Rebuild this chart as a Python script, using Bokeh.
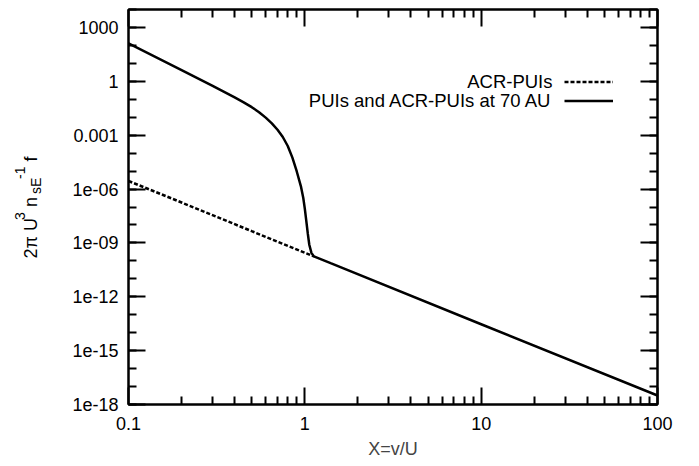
import math
from bokeh.plotting import figure
from bokeh.layouts import row
from bokeh.models import (LogAxis, FixedTicker, CustomJSTickFormatter,
                          Legend, LegendItem, Range1d, Label)
from bokeh.core.properties import value
from bokeh.embed import file_html
from bokeh.resources import INLINE

# ---- data (x = v/U, y = 2pi U^3 n_sE^-1 f) ----
x_acr = [0.1, 0.2, 0.5, 1.125]
y_acr = [2.8e-6, 1.78e-7, 4.5e-9, 1.78e-10]

x_tot = [0.1, 0.2, 0.3, 0.4, 0.45, 0.5, 0.55, 0.6, 0.65, 0.7, 0.75, 0.8,
         0.85, 0.9, 0.95, 0.98, 1.0, 1.02, 1.04, 1.06, 1.09, 1.125, 1.4,
         10.0, 100.0]
y_tot = [1.32e2, 4.17, 0.55, 0.126, 6.76e-2, 3.63e-2, 1.91e-2, 9.5e-3,
         4.57e-3, 2.0e-3, 7.9e-4, 2.5e-4, 5.6e-5, 9.5e-6, 1.41e-6, 3.16e-7,
         7.9e-8, 1.58e-8, 3.16e-9, 7.9e-10, 2.8e-10, 1.78e-10, 7.4e-11,
         2.95e-14, 3.16e-18]

x_major = [0.1, 1.0, 10.0, 100.0]
y_major = [1e3, 1.0, 1e-3, 1e-6, 1e-9, 1e-12, 1e-15, 1e-18]
legend_labels = ["ACR-PUIs", "PUIs and ACR-PUIs at 70 AU"]
x_title = "X=v/U"
y_title_pieces = ["2\u03c0 U", "3", "n", "sE", "-1", "f"]

FONT = "Liberation Sans"
TOTAL_H = 465
TITLE_W = 60
X_LO, X_HI, Y_LO_EXP, Y_HI_EXP = 0.1, 100.0, -18, 4

x_minor = [m * 10.0 ** k for k in (-1, 0, 1) for m in range(2, 10)]
y_minor = [10.0 ** k for k in range(Y_LO_EXP, Y_HI_EXP + 1)]

fmt = CustomJSTickFormatter(code="""
    const e = Math.round(Math.log10(tick));
    if (e >= -4) return String(Number("1e" + e));
    const n = -e;
    return "1e-" + (n < 10 ? "0" + n : String(n));
""")
blank_fmt = CustomJSTickFormatter(code="return '';")

# frame: page x 128..657, page y 9..404
F_LEFT, F_RIGHT, F_TOP, F_BOT = 128, 657, 9, 404
p = figure(width=638, height=TOTAL_H, x_axis_type="log", y_axis_type="log",
           x_range=Range1d(X_LO, X_HI),
           y_range=Range1d(10.0 ** Y_LO_EXP, 10.0 ** Y_HI_EXP),
           output_backend="svg", toolbar_location=None,
           min_border_left=F_LEFT - TITLE_W,
           min_border_right=TITLE_W + 638 - F_RIGHT,
           min_border_top=F_TOP, min_border_bottom=TOTAL_H - F_BOT)
p.grid.visible = False
p.outline_line_color = "black"
p.outline_line_width = 2
p.background_fill_color = "white"
p.border_fill_color = "white"

xt = FixedTicker(ticks=x_major, minor_ticks=x_minor)
yt = FixedTicker(ticks=y_major, minor_ticks=y_minor)


def style(ax, show_labels=True):
    ax.axis_line_color = "black"
    ax.axis_line_width = 2
    ax.major_tick_line_color = "black"
    ax.major_tick_line_width = 2
    ax.minor_tick_line_color = "black"
    ax.minor_tick_line_width = 2
    ax.major_tick_in = 17
    ax.major_tick_out = 0
    ax.minor_tick_in = 8
    ax.minor_tick_out = 0
    if show_labels:
        ax.formatter = fmt
        ax.major_label_text_font = FONT
        ax.major_label_text_font_size = "18px"
        ax.major_label_text_color = "black"
    else:
        ax.formatter = blank_fmt
        ax.major_label_text_font_size = "0px"
        ax.major_label_standoff = 0


xa = p.xaxis[0]
ya = p.yaxis[0]
xa.ticker = xt
ya.ticker = yt
style(xa)
style(ya)
xa.major_label_standoff = 12
ya.major_label_standoff = 10
xa.axis_label = x_title
xa.axis_label_text_font = FONT
xa.axis_label_text_font_size = "18px"
xa.axis_label_text_font_style = "normal"
xa.axis_label_standoff = 6

top_ax = LogAxis(ticker=xt)
style(top_ax, show_labels=False)
p.add_layout(top_ax, "above")
right_ax = LogAxis(ticker=yt)
style(right_ax, show_labels=False)
p.add_layout(right_ax, "right")

r_acr = p.line(x_acr, y_acr, line_color="black", line_width=2.5,
               line_dash="4 2")
r_tot = p.line(x_tot, y_tot, line_color="black", line_width=2.5)


def px_to_x(px):
    return 10.0 ** (math.log10(X_LO) + (px - F_LEFT) / (F_RIGHT - F_LEFT)
                    * (math.log10(X_HI) - math.log10(X_LO)))


def py_to_y(py):
    return 10.0 ** (Y_HI_EXP - (py - F_TOP) / (F_BOT - F_TOP)
                    * (Y_HI_EXP - Y_LO_EXP))


# gnuplot-style key: right-aligned text, sample line to its right
ROW_H = 19
ROW1_C = 81
key = Legend(items=[LegendItem(label=value(""), renderers=[r_acr]),
                    LegendItem(label=value(""), renderers=[r_tot])],
             location=(564 - F_LEFT, F_BOT - (ROW1_C - ROW_H / 2) - 2 * ROW_H),
             padding=0, margin=0, spacing=0, glyph_width=49,
             glyph_height=ROW_H, label_height=ROW_H, label_standoff=0,
             label_width=0, label_text_font_size="1px",
             border_line_alpha=0, background_fill_alpha=0)
p.add_layout(key)
for i, lab in enumerate(legend_labels):
    p.add_layout(Label(x=px_to_x(552), y=py_to_y(ROW1_C + i * ROW_H),
                       text=lab, text_align="right", text_baseline="middle",
                       text_font=FONT, text_font_size="18.5px",
                       text_color="black"))

# ---- rotated y-axis title (with super/subscripts) in a narrow panel ----
# (its frame is aligned with the main frame: bottom at page y = F_BOT)
t = figure(width=TITLE_W, height=TOTAL_H, x_range=Range1d(0, TITLE_W),
           y_range=Range1d(0, TOTAL_H), output_backend="svg",
           toolbar_location=None, x_axis_location=None,
           y_axis_location=None, min_border=0, title=None)
t.min_border_left = t.min_border_right = 0
t.min_border_top = t.min_border_bottom = 0
t.grid.visible = False
t.outline_line_color = None
t.background_fill_color = "white"
t.border_fill_color = "white"

# (font size px, page y where the piece starts, page x of its baseline)
piece_layout = [(18, 258.0, 30.0), (14, 219.5, 19.0), (18, 206.5, 30.0),
                (14, 193.5, 35.0), (14, 178.5, 19.0), (18, 161.0, 30.0)]
for txt, (fs, py, bx) in zip(y_title_pieces, piece_layout):
    t.add_layout(Label(x=bx, y=F_BOT - py, x_units="screen",
                       y_units="screen", text=txt, angle=math.pi / 2,
                       text_align="left", text_baseline="alphabetic",
                       text_font=FONT, text_font_size=f"{fs}px",
                       text_color="black"))

layout = row(t, p, spacing=0)
open("out.html", "w").write(file_html(layout, INLINE))
